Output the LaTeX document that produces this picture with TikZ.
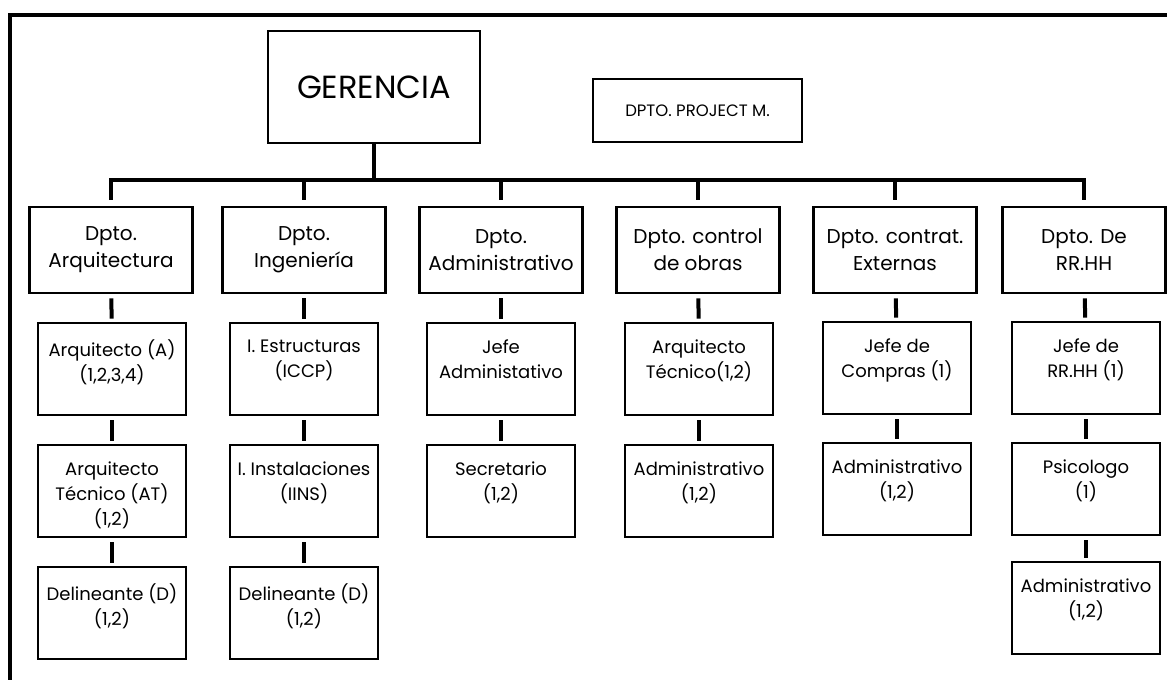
\documentclass[tikz,border=0pt]{standalone}
\usepackage{fontspec}
\setmainfont{Poppins}
\begin{document}
\begin{tikzpicture}[x=1pt,y=-1pt,
  frame/.style={line width=4pt},
  bar/.style={line width=4pt},
  link/.style={line width=4pt, shorten <=4pt, shorten >=3pt},
  topbox/.style={draw, line width=2.6pt, inner sep=0pt, align=center},
  deptbox/.style={draw, line width=2.6pt, inner sep=0pt, minimum width=163pt, minimum height=86pt,
    align=center, font=\fontsize{20}{27}\selectfont},
  rolebox/.style={draw, line width=2.6pt, inner sep=0pt, minimum width=148pt, minimum height=92pt},
  roletext/.style={anchor=north, yshift=-18pt, inner sep=0pt, align=center,
    font=\fontsize{18}{25}\selectfont}]
\useasboundingbox (0,0) rectangle (1167,680);

% outer frame (top and left edges only)
\draw[frame] (1167,15) -- (10,15) -- (10,680);

% top level
\node[topbox, minimum width=212pt, minimum height=112pt, font=\fontsize{32}{36}\selectfont]
  (ger) at (374,87) {GERENCIA};
\node[topbox, minimum width=209pt, minimum height=63pt, font=\fontsize{16.5}{20}\selectfont]
  (pm) at (697.5,110.5) {DPTO. PROJECT M.};

% departments
\node[deptbox] (d1) at (111,250)  {Dpto.\\Arquitectura};
\node[deptbox] (d2) at (304,250)  {Dpto.\\Ingeniería};
\node[deptbox] (d3) at (501,250)  {Dpto.\\Administrativo};
\node[deptbox] (d4) at (698,250)  {Dpto. control\\de obras};
\node[deptbox] (d5) at (895,250)  {Dpto. contrat.\\Externas};
\node[deptbox] (d6) at (1084,250) {Dpto. De\\RR.HH};

% bus from GERENCIA to departments
\coordinate (bus) at (374,180);
\draw[bar] (ger.south) -- (bus);
\draw[bar, shorten <=6pt, shorten >=6pt] (d1.north) -- (d1.north |- bus) -- (d6.north |- bus) -- (d6.north);
\foreach \d in {d2,d3,d4,d5}
  \draw[bar, shorten >=6pt] (\d.north |- bus) -- (\d.north);

% column 1
\node[rolebox, label={[roletext]north:Arquitecto (A)\\(1,2,3,4)}] (a1) at (112,369) {};
\node[rolebox, label={[roletext]north:Arquitecto\\Técnico (AT)\\(1,2)}] (a2) at (112,491) {};
\node[rolebox, label={[roletext]north:Delineante (D)\\(1,2)}] (a3) at (112,613) {};
% column 2
\node[rolebox, label={[roletext]north:I. Estructuras\\(ICCP)}] (b1) at (304,369) {};
\node[rolebox, label={[roletext]north:I. Instalaciones\\(IINS)}] (b2) at (304,491) {};
\node[rolebox, label={[roletext]north:Delineante (D)\\(1,2)}] (b3) at (304,613) {};
% column 3
\node[rolebox, label={[roletext]north:Jefe\\Administativo}] (c1) at (501,369) {};
\node[rolebox, label={[roletext]north:Secretario\\(1,2)}] (c2) at (501,491) {};
% column 4
\node[rolebox, label={[roletext]north:Arquitecto\\Técnico(1,2)}] (e1) at (699,369) {};
\node[rolebox, label={[roletext]north:Administrativo\\(1,2)}] (e2) at (699,491) {};
% column 5
\node[rolebox, label={[roletext]north:Jefe de\\Compras (1)}] (f1) at (897,368) {};
\node[rolebox, label={[roletext]north:Administrativo\\(1,2)}] (f2) at (897,489) {};
% column 6
\node[rolebox, label={[roletext]north:Jefe de\\RR.HH (1)}] (g1) at (1086,368) {};
\node[rolebox, label={[roletext]north:Psicologo\\(1)}] (g2) at (1086,489) {};
\node[rolebox, label={[roletext]north:Administrativo\\(1,2)}] (g3) at (1086,608) {};

% chains of command
\draw[link] (d1) -- (a1);
\draw[link] (a1) -- (a2);
\draw[link] (a2) -- (a3);
\draw[link] (d2) -- (b1);
\draw[link] (b1) -- (b2);
\draw[link] (b2) -- (b3);
\draw[link] (d3) -- (c1);
\draw[link] (c1) -- (c2);
\draw[link] (d4) -- (e1);
\draw[link] (e1) -- (e2);
\draw[link] (d5) -- (f1);
\draw[link] (f1) -- (f2);
\draw[link] (d6) -- (g1);
\draw[link] (g1) -- (g2);
\draw[link] (g2) -- (g3);
\end{tikzpicture}
\end{document}
